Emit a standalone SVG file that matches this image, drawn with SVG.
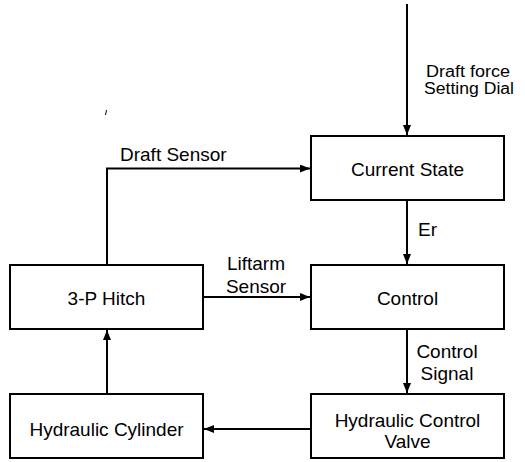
<svg xmlns="http://www.w3.org/2000/svg" width="525" height="462" viewBox="0 0 525 462">
<style>
.box{fill:#fff;stroke:#000;stroke-width:2}
.ln{fill:none;stroke:#000;stroke-width:2}
text{font-family:"Liberation Sans",Arial,sans-serif;font-size:19px;fill:#000}
.c{text-anchor:middle}
.s{font-size:16px}
</style>
<defs>
<marker id="ah" viewBox="0 0 10 8" refX="10" refY="4" markerWidth="10" markerHeight="8" markerUnits="userSpaceOnUse" orient="auto">
<path d="M0,0 L10,4 L0,8 Z" fill="#000"/>
</marker>
</defs>
<rect width="525" height="462" fill="#fff"/>
<g id="connectors">
<line class="ln" x1="407" y1="4" x2="407" y2="135" marker-end="url(#ah)"/>
<polyline class="ln" points="107,265 107,168.5 310,168.5" marker-end="url(#ah)"/>
<line class="ln" x1="407" y1="200" x2="407" y2="264" marker-end="url(#ah)"/>
<line class="ln" x1="203" y1="297" x2="310" y2="297" marker-end="url(#ah)"/>
<line class="ln" x1="407" y1="329" x2="407" y2="393" marker-end="url(#ah)"/>
<line class="ln" x1="311" y1="429" x2="204" y2="429" marker-end="url(#ah)"/>
<line class="ln" x1="107" y1="394" x2="107" y2="330" marker-end="url(#ah)"/>
<line x1="105.5" y1="115" x2="106.5" y2="110" stroke="#000" stroke-width="1"/>
<text class="s" x="426" y="77" textLength="84" lengthAdjust="spacingAndGlyphs">Draft force</text>
<text class="s" x="424" y="94" textLength="90" lengthAdjust="spacingAndGlyphs">Setting Dial</text>
<text x="120" y="161">Draft Sensor</text>
<text x="418" y="236">Er</text>
<text class="c" x="256" y="270">Liftarm</text>
<text class="c" x="256" y="293">Sensor</text>
<text class="c" x="447" y="358">Control</text>
<text class="c" x="447" y="380">Signal</text>
</g>
<g id="current-state">
<rect class="box" x="311" y="136" width="193" height="64"/>
<text class="c" x="407.5" y="176">Current State</text>
</g>
<g id="hitch">
<rect class="box" x="10" y="265" width="193" height="64"/>
<text class="c" x="106.5" y="305">3-P Hitch</text>
</g>
<g id="control">
<rect class="box" x="311" y="265" width="193" height="64"/>
<text class="c" x="407.5" y="305">Control</text>
</g>
<g id="hydraulic-cylinder">
<rect class="box" x="10" y="394" width="193" height="64"/>
<text class="c" x="106.5" y="436">Hydraulic Cylinder</text>
</g>
<g id="hydraulic-control-valve">
<rect class="box" x="311" y="394" width="193" height="64"/>
<text class="c" x="407.5" y="427">Hydraulic Control</text>
<text class="c" x="407.5" y="448">Valve</text>
</g>
</svg>
